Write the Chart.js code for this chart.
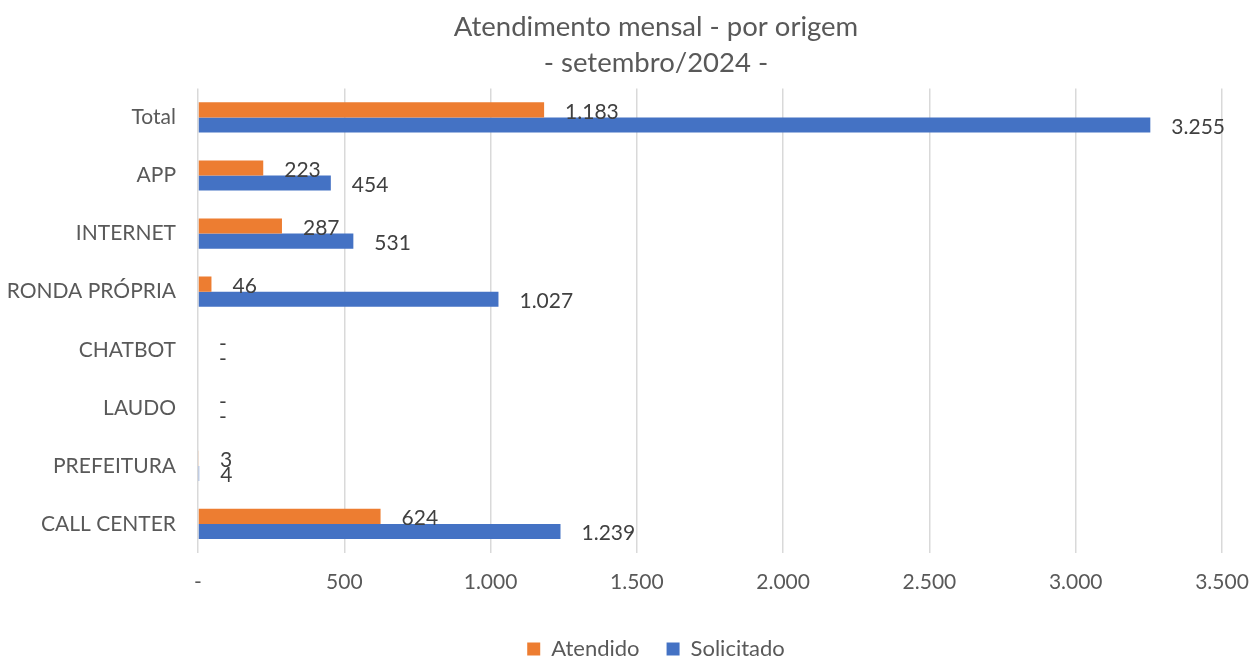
<!DOCTYPE html>
<html>
<head>
<meta charset="utf-8">
<script src="https://cdn.jsdelivr.net/npm/chart.js@4"></script>
<style>
  html, body { margin: 0; padding: 0; background: #fff; }
  #wrap { width: 1253px; height: 659px; }
</style>
</head>
<body>
<div id="wrap"><canvas id="chartOrigem" width="1253" height="659"></canvas></div>
<script>
var categorias = ['Total', 'APP', 'INTERNET', 'RONDA PRÓPRIA', 'CHATBOT', 'LAUDO', 'PREFEITURA', 'CALL CENTER'];
var atendido = [1183, 223, 287, 46, 0, 0, 3, 624];
var solicitado = [3255, 454, 531, 1027, 0, 0, 4, 1239];
var tituloLinhas = ['Atendimento mensal - por origem', '- setembro/2024 -'];

var FONTE = 'Lato, "Noto Sans", sans-serif';

function formata(v) {
    if (v === 0) return '-';
    return String(v).replace(/\B(?=(\d{3})+(?!\d))/g, '.');
}

// rotulos de dados a direita das barras
var rotulos = {
    id: 'rotulos',
    afterDatasetsDraw: function (chart) {
        var ctx = chart.ctx;
        ctx.save();
        ctx.font = '21px ' + FONTE;
        ctx.fillStyle = '#404040';
        ctx.textAlign = 'left';
        ctx.textBaseline = 'middle';
        chart.data.datasets.forEach(function (ds, i) {
            var meta = chart.getDatasetMeta(i);
            meta.data.forEach(function (bar, j) {
                ctx.fillText(formata(ds.data[j]), bar.x + 21, bar.y + 2);
            });
        });
        ctx.restore();
    }
};

// titulo e legenda centralizados um pouco a direita, como no Excel
var deslocaBlocos = {
    id: 'deslocaBlocos',
    afterLayout: function (chart) {
        [chart.titleBlock, chart.legend].forEach(function (b) {
            if (!b) return;
            b.left += 45;
            b.right += 45;
        });
    }
};

var ctx = document.getElementById('chartOrigem').getContext('2d');
var myChart = new Chart(ctx, {
    type: 'bar',
    data: {
        labels: categorias,
        datasets: [{
            label: 'Atendido',
            data: atendido,
            backgroundColor: '#ED7D31',
            categoryPercentage: 0.52,
            barPercentage: 1
        }, {
            label: 'Solicitado',
            data: solicitado,
            backgroundColor: '#4472C4',
            categoryPercentage: 0.52,
            barPercentage: 1
        }]
    },
    options: {
        indexAxis: 'y',
        responsive: false,
        animation: false,
        layout: { padding: { left: 0, right: 31, top: 0, bottom: -11 } },
        scales: {
            x: {
                min: 0,
                max: 3500,
                ticks: {
                    stepSize: 500,
                    color: '#595959',
                    font: { family: FONTE, size: 21 },
                    padding: 17,
                    maxRotation: 0,
                    callback: function (v) { return formata(v); }
                },
                grid: { color: '#D9D9D9', lineWidth: 1.5, drawTicks: false },
                border: { display: false },
                afterFit: function (scale) {
                    scale.height = 58;
                    scale.paddingLeft = 0;
                    scale.paddingRight = 0;
                }
            },
            y: {
                ticks: {
                    color: '#595959',
                    font: { family: FONTE, size: 21 },
                    padding: 14
                },
                grid: { display: false },
                border: { display: false },
                afterFit: function (scale) { scale.width = 198; }
            }
        },
        plugins: {
            title: {
                display: true,
                text: tituloLinhas,
                color: '#595959',
                font: { family: FONTE, size: 27.5, weight: 'normal', lineHeight: 1.28 },
                padding: { top: 10, bottom: 8 }
            },
            legend: {
                position: 'bottom',
                labels: {
                    color: '#595959',
                    font: { family: FONTE, size: 22 },
                    boxWidth: 13,
                    boxHeight: 13,
                    padding: 27
                }
            },
            tooltip: { enabled: false }
        }
    },
    plugins: [rotulos, deslocaBlocos]
});
</script>
</body>
</html>
